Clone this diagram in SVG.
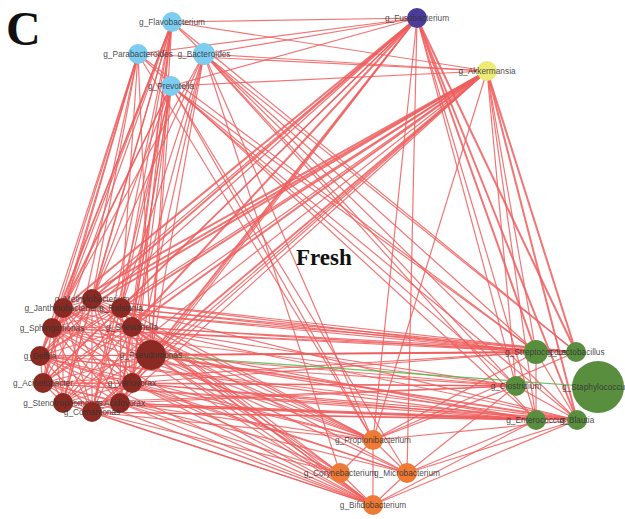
<svg xmlns="http://www.w3.org/2000/svg" width="625" height="519" viewBox="0 0 625 519">
<style>
.e line{stroke:#ef5d5d;stroke-width:1.2;stroke-opacity:.85}
.e line.t{stroke-width:2}
.e line.g{stroke:#4cb848;stroke-width:1.2}
.n text{font-family:"Liberation Sans",Arial,sans-serif;font-size:8.3px;fill:#333;text-anchor:middle;dominant-baseline:central;fill-opacity:.9}
.b{fill:#7dcdf0}.p{fill:#4b3b9a}.y{fill:#eeea76}.r{fill:#8a2a22}.gr{fill:#5a8e3f}.o{fill:#ef7a35}
.h{font-family:"Liberation Serif","Times New Roman",serif;font-weight:bold;fill:#111}
</style>
<rect width="625" height="519" fill="#fff"/>
<text class="h" x="6" y="45" font-size="48">C</text>
<text class="h" x="296" y="265" font-size="23">Fresh</text>
<g id="connectors" class="e">
<!-- dark red cluster intra -->
<line x1="92" y1="299" x2="63" y2="308"/><line x1="92" y1="299" x2="121" y2="308"/><line x1="92" y1="299" x2="52" y2="328"/><line x1="92" y1="299" x2="132" y2="327"/><line x1="92" y1="299" x2="40" y2="356"/><line x1="92" y1="299" x2="151" y2="355"/><line x1="92" y1="299" x2="43" y2="383"/><line x1="92" y1="299" x2="132" y2="383"/><line x1="92" y1="299" x2="63" y2="403"/><line x1="92" y1="299" x2="120" y2="403"/><line x1="92" y1="299" x2="92" y2="412"/>
<line x1="63" y1="308" x2="121" y2="308"/><line x1="63" y1="308" x2="52" y2="328"/><line x1="63" y1="308" x2="132" y2="327"/><line x1="63" y1="308" x2="40" y2="356"/><line x1="63" y1="308" x2="151" y2="355"/><line x1="63" y1="308" x2="43" y2="383"/><line x1="63" y1="308" x2="132" y2="383"/><line x1="63" y1="308" x2="63" y2="403"/><line x1="63" y1="308" x2="120" y2="403"/><line x1="63" y1="308" x2="92" y2="412"/>
<line x1="121" y1="308" x2="52" y2="328"/><line x1="121" y1="308" x2="132" y2="327"/><line x1="121" y1="308" x2="40" y2="356"/><line x1="121" y1="308" x2="151" y2="355"/><line x1="121" y1="308" x2="43" y2="383"/><line x1="121" y1="308" x2="132" y2="383"/><line x1="121" y1="308" x2="63" y2="403"/><line x1="121" y1="308" x2="120" y2="403"/><line x1="121" y1="308" x2="92" y2="412"/>
<line x1="52" y1="328" x2="132" y2="327"/><line x1="52" y1="328" x2="40" y2="356"/><line x1="52" y1="328" x2="151" y2="355"/><line x1="52" y1="328" x2="43" y2="383"/><line x1="52" y1="328" x2="132" y2="383"/><line x1="52" y1="328" x2="63" y2="403"/><line x1="52" y1="328" x2="120" y2="403"/><line x1="52" y1="328" x2="92" y2="412"/>
<line x1="132" y1="327" x2="40" y2="356"/><line x1="132" y1="327" x2="151" y2="355"/><line x1="132" y1="327" x2="43" y2="383"/><line x1="132" y1="327" x2="132" y2="383"/><line x1="132" y1="327" x2="63" y2="403"/><line x1="132" y1="327" x2="120" y2="403"/><line x1="132" y1="327" x2="92" y2="412"/>
<line x1="40" y1="356" x2="151" y2="355"/><line x1="40" y1="356" x2="43" y2="383"/><line x1="40" y1="356" x2="132" y2="383"/><line x1="40" y1="356" x2="63" y2="403"/><line x1="40" y1="356" x2="120" y2="403"/><line x1="40" y1="356" x2="92" y2="412"/>
<line x1="151" y1="355" x2="43" y2="383"/><line x1="151" y1="355" x2="132" y2="383"/><line x1="151" y1="355" x2="63" y2="403"/><line x1="151" y1="355" x2="120" y2="403"/><line x1="151" y1="355" x2="92" y2="412"/>
<line x1="43" y1="383" x2="132" y2="383"/><line x1="43" y1="383" x2="63" y2="403"/><line x1="43" y1="383" x2="120" y2="403"/><line x1="43" y1="383" x2="92" y2="412"/>
<line x1="132" y1="383" x2="63" y2="403"/><line x1="132" y1="383" x2="120" y2="403"/><line x1="132" y1="383" x2="92" y2="412"/>
<line x1="63" y1="403" x2="120" y2="403"/><line x1="63" y1="403" x2="92" y2="412"/><line x1="120" y1="403" x2="92" y2="412"/>
<!-- blue to dark red -->
<line x1="172" y1="22" x2="92" y2="299"/><line x1="172" y1="22" x2="63" y2="308"/><line x1="172" y1="22" x2="121" y2="308"/><line x1="172" y1="22" x2="52" y2="328"/><line x1="172" y1="22" x2="132" y2="327"/><line x1="172" y1="22" x2="40" y2="356"/><line x1="172" y1="22" x2="151" y2="355"/><line x1="172" y1="22" x2="43" y2="383"/><line x1="172" y1="22" x2="132" y2="383"/><line x1="172" y1="22" x2="63" y2="403"/><line x1="172" y1="22" x2="120" y2="403"/><line x1="172" y1="22" x2="92" y2="412"/>
<line x1="138" y1="54" x2="92" y2="299"/><line x1="138" y1="54" x2="63" y2="308"/><line x1="138" y1="54" x2="52" y2="328"/><line x1="138" y1="54" x2="40" y2="356"/><line x1="138" y1="54" x2="43" y2="383"/><line x1="138" y1="54" x2="63" y2="403"/><line x1="138" y1="54" x2="151" y2="355"/><line x1="138" y1="54" x2="121" y2="308"/>
<line x1="171" y1="86" x2="92" y2="299"/><line x1="171" y1="86" x2="63" y2="308"/><line x1="171" y1="86" x2="121" y2="308"/><line x1="171" y1="86" x2="132" y2="327"/><line x1="171" y1="86" x2="151" y2="355"/><line x1="171" y1="86" x2="132" y2="383"/><line x1="171" y1="86" x2="120" y2="403"/><line x1="171" y1="86" x2="92" y2="412"/><line x1="171" y1="86" x2="52" y2="328"/>
<line x1="204" y1="54" x2="121" y2="308"/><line x1="204" y1="54" x2="132" y2="327"/><line x1="204" y1="54" x2="151" y2="355"/><line x1="204" y1="54" x2="132" y2="383"/><line x1="204" y1="54" x2="92" y2="299"/><line x1="204" y1="54" x2="63" y2="308"/>
<!-- blue to fus / akk -->
<line x1="172" y1="22" x2="417" y2="18"/><line x1="138" y1="54" x2="417" y2="18"/><line x1="204" y1="54" x2="417" y2="18"/><line x1="171" y1="86" x2="417" y2="18"/>
<line x1="172" y1="22" x2="487" y2="71"/><line x1="138" y1="54" x2="487" y2="71"/><line x1="204" y1="54" x2="487" y2="71"/><line x1="171" y1="86" x2="487" y2="71"/>
<!-- blue to green / orange -->
<line x1="172" y1="22" x2="576" y2="352"/><line x1="172" y1="22" x2="577" y2="420"/><line x1="138" y1="54" x2="536" y2="352"/><line x1="138" y1="54" x2="536" y2="420"/><line x1="204" y1="54" x2="536" y2="352"/><line x1="204" y1="54" x2="516" y2="386"/><line x1="204" y1="54" x2="576" y2="352"/><line x1="204" y1="54" x2="373" y2="440"/><line x1="204" y1="54" x2="536" y2="420"/><line x1="171" y1="86" x2="516" y2="386"/><line x1="171" y1="86" x2="577" y2="420"/><line x1="171" y1="86" x2="373" y2="440"/><line x1="171" y1="86" x2="407" y2="473"/><line x1="171" y1="86" x2="536" y2="352"/><line x1="138" y1="54" x2="373" y2="440"/><line x1="204" y1="54" x2="340" y2="473"/>
<!-- fusobacterium -->
<line class="t" x1="417" y1="18" x2="92" y2="299"/><line class="t" x1="417" y1="18" x2="63" y2="308"/><line x1="417" y1="18" x2="121" y2="308"/><line x1="417" y1="18" x2="52" y2="328"/><line class="t" x1="417" y1="18" x2="132" y2="327"/><line x1="417" y1="18" x2="40" y2="356"/><line class="t" x1="417" y1="18" x2="151" y2="355"/><line x1="417" y1="18" x2="132" y2="383"/><line x1="417" y1="18" x2="43" y2="383"/><line x1="417" y1="18" x2="120" y2="403"/>
<line class="t" x1="417" y1="18" x2="536" y2="352"/><line class="t" x1="417" y1="18" x2="576" y2="352"/><line x1="417" y1="18" x2="516" y2="386"/><line class="t" x1="417" y1="18" x2="577" y2="420"/><line x1="417" y1="18" x2="536" y2="420"/><line x1="417" y1="18" x2="373" y2="440"/><line x1="417" y1="18" x2="407" y2="473"/>
<!-- akkermansia -->
<line class="t" x1="487" y1="71" x2="92" y2="299"/><line class="t" x1="487" y1="71" x2="63" y2="308"/><line class="t" x1="487" y1="71" x2="121" y2="308"/><line class="t" x1="487" y1="71" x2="52" y2="328"/><line class="t" x1="487" y1="71" x2="132" y2="327"/><line x1="487" y1="71" x2="40" y2="356"/><line class="t" x1="487" y1="71" x2="151" y2="355"/><line x1="487" y1="71" x2="43" y2="383"/><line x1="487" y1="71" x2="132" y2="383"/><line x1="487" y1="71" x2="63" y2="403"/><line x1="487" y1="71" x2="120" y2="403"/><line x1="487" y1="71" x2="92" y2="412"/>
<line x1="487" y1="71" x2="536" y2="352"/><line class="t" x1="487" y1="71" x2="576" y2="352"/><line x1="487" y1="71" x2="516" y2="386"/><line class="t" x1="487" y1="71" x2="577" y2="420"/><line x1="487" y1="71" x2="536" y2="420"/><line x1="487" y1="71" x2="373" y2="440"/>
<!-- green to dark red -->
<line x1="536" y1="352" x2="92" y2="299"/><line x1="536" y1="352" x2="63" y2="308"/><line x1="536" y1="352" x2="121" y2="308"/><line x1="536" y1="352" x2="52" y2="328"/><line x1="536" y1="352" x2="132" y2="327"/><line x1="536" y1="352" x2="40" y2="356"/><line class="t" x1="536" y1="352" x2="151" y2="355"/><line x1="536" y1="352" x2="43" y2="383"/><line x1="536" y1="352" x2="132" y2="383"/>
<line x1="576" y1="352" x2="63" y2="308"/><line x1="576" y1="352" x2="121" y2="308"/><line x1="576" y1="352" x2="132" y2="327"/><line x1="576" y1="352" x2="151" y2="355"/><line x1="576" y1="352" x2="52" y2="328"/><line x1="576" y1="352" x2="92" y2="299"/>
<line x1="516" y1="386" x2="40" y2="356"/><line x1="516" y1="386" x2="151" y2="355"/><line x1="516" y1="386" x2="43" y2="383"/><line x1="516" y1="386" x2="132" y2="383"/><line x1="516" y1="386" x2="132" y2="327"/><line x1="516" y1="386" x2="63" y2="403"/><line x1="516" y1="386" x2="52" y2="328"/><line x1="516" y1="386" x2="120" y2="403"/>
<line x1="536" y1="420" x2="43" y2="383"/><line x1="536" y1="420" x2="63" y2="403"/><line x1="536" y1="420" x2="92" y2="412"/><line x1="536" y1="420" x2="120" y2="403"/><line x1="536" y1="420" x2="132" y2="383"/><line x1="536" y1="420" x2="151" y2="355"/><line x1="536" y1="420" x2="40" y2="356"/><line x1="536" y1="420" x2="52" y2="328"/>
<line class="t" x1="577" y1="420" x2="151" y2="355"/><line x1="577" y1="420" x2="132" y2="383"/><line x1="577" y1="420" x2="120" y2="403"/><line x1="577" y1="420" x2="92" y2="412"/><line x1="577" y1="420" x2="63" y2="403"/><line x1="577" y1="420" x2="43" y2="383"/><line x1="577" y1="420" x2="132" y2="327"/><line x1="577" y1="420" x2="40" y2="356"/><line x1="577" y1="420" x2="121" y2="308"/>
<!-- green intra -->
<line x1="536" y1="352" x2="536" y2="420"/><line x1="516" y1="386" x2="577" y2="420"/><line x1="536" y1="352" x2="577" y2="420"/>
<!-- orange to dark red -->
<line x1="373" y1="440" x2="92" y2="299"/><line x1="373" y1="440" x2="121" y2="308"/><line x1="373" y1="440" x2="132" y2="327"/><line x1="373" y1="440" x2="151" y2="355"/><line x1="373" y1="440" x2="132" y2="383"/><line x1="373" y1="440" x2="120" y2="403"/><line x1="373" y1="440" x2="92" y2="412"/><line x1="373" y1="440" x2="63" y2="308"/><line x1="373" y1="440" x2="52" y2="328"/><line x1="373" y1="440" x2="40" y2="356"/>
<line x1="340" y1="473" x2="151" y2="355"/><line x1="340" y1="473" x2="132" y2="383"/><line x1="340" y1="473" x2="120" y2="403"/><line x1="340" y1="473" x2="92" y2="412"/><line x1="340" y1="473" x2="132" y2="327"/><line x1="340" y1="473" x2="121" y2="308"/>
<line x1="407" y1="473" x2="151" y2="355"/><line x1="407" y1="473" x2="132" y2="383"/><line x1="407" y1="473" x2="132" y2="327"/><line x1="407" y1="473" x2="43" y2="383"/><line x1="407" y1="473" x2="40" y2="356"/>
<line x1="373" y1="505" x2="92" y2="412"/><line x1="373" y1="505" x2="63" y2="403"/><line x1="373" y1="505" x2="120" y2="403"/><line x1="373" y1="505" x2="43" y2="383"/><line x1="373" y1="505" x2="40" y2="356"/><line x1="373" y1="505" x2="132" y2="383"/><line x1="373" y1="505" x2="151" y2="355"/><line x1="373" y1="505" x2="52" y2="328"/><line x1="373" y1="505" x2="132" y2="327"/><line x1="373" y1="505" x2="63" y2="308"/><line x1="373" y1="505" x2="92" y2="299"/><line x1="373" y1="505" x2="121" y2="308"/>
<!-- orange intra -->
<line x1="373" y1="440" x2="340" y2="473"/><line x1="373" y1="440" x2="407" y2="473"/><line x1="373" y1="440" x2="373" y2="505"/><line x1="340" y1="473" x2="373" y2="505"/><line x1="407" y1="473" x2="373" y2="505"/>
<!-- orange to green -->
<line x1="373" y1="440" x2="536" y2="352"/><line x1="373" y1="440" x2="516" y2="386"/><line x1="373" y1="440" x2="577" y2="420"/><line x1="373" y1="440" x2="576" y2="352"/><line x1="407" y1="473" x2="536" y2="420"/><line x1="407" y1="473" x2="577" y2="420"/><line x1="407" y1="473" x2="516" y2="386"/><line x1="373" y1="505" x2="577" y2="420"/><line x1="373" y1="505" x2="536" y2="420"/>
<!-- negative (green) edge -->
<line class="g" x1="151" y1="355" x2="598" y2="387"/>
</g>
<g id="n_Flavobacterium" class="n"><circle class="b" cx="172" cy="22" r="10"/><text x="172" y="22">g_Flavobacterium</text></g>
<g id="n_Parabacteroides" class="n"><circle class="b" cx="138" cy="54" r="10"/><text x="138" y="54">g_Parabacteroides</text></g>
<g id="n_Bacteroides" class="n"><circle class="b" cx="204" cy="54" r="11"/><text x="204" y="54">g_Bacteroides</text></g>
<g id="n_Prevotella" class="n"><circle class="b" cx="171" cy="86" r="10"/><text x="171" y="86">g_Prevotella</text></g>
<g id="n_Fusobacterium" class="n"><circle class="p" cx="417" cy="18" r="10"/><text x="417" y="18">g_Fusobacterium</text></g>
<g id="n_Akkermansia" class="n"><circle class="y" cx="487" cy="71" r="10"/><text x="487" y="71">g_Akkermansia</text></g>
<g id="n_Methylobacterium" class="n"><circle class="r" cx="92" cy="299" r="10"/><text x="92" y="299">g_Methylobacterium</text></g>
<g id="n_Janthinobacterium" class="n"><circle class="r" cx="63" cy="308" r="10"/><text x="63" y="308">g_Janthinobacterium</text></g>
<g id="n_Ralstonia" class="n"><circle class="r" cx="121" cy="308" r="10"/><text x="121" y="308">g_Ralstonia</text></g>
<g id="n_Sphingomonas" class="n"><circle class="r" cx="52" cy="328" r="10"/><text x="52" y="328">g_Sphingomonas</text></g>
<g id="n_Shewanella" class="n"><circle class="r" cx="132" cy="327" r="10"/><text x="132" y="327">g_Shewanella</text></g>
<g id="n_Delftia" class="n"><circle class="r" cx="40" cy="356" r="10"/><text x="40" y="356">g_Delftia</text></g>
<g id="n_Pseudomonas" class="n"><circle class="r" cx="151" cy="355" r="15"/><text x="151" y="355">g_Pseudomonas</text></g>
<g id="n_Acinetobacter" class="n"><circle class="r" cx="43" cy="383" r="10"/><text x="43" y="383">g_Acinetobacter</text></g>
<g id="n_Variovorax" class="n"><circle class="r" cx="132" cy="383" r="10"/><text x="132" y="383">g_Variovorax</text></g>
<g id="n_Stenotrophomonas" class="n"><circle class="r" cx="63" cy="403" r="10"/><text x="63" y="403">g_Stenotrophomonas</text></g>
<g id="n_Acidovorax" class="n"><circle class="r" cx="120" cy="403" r="10"/><text x="120" y="403">g_Acidovorax</text></g>
<g id="n_Comamonas" class="n"><circle class="r" cx="92" cy="412" r="10"/><text x="92" y="412">g_Comamonas</text></g>
<g id="n_Streptococcus" class="n"><circle class="gr" cx="536" cy="352" r="12"/><text x="536" y="352">g_Streptococcus</text></g>
<g id="n_Lactobacillus" class="n"><circle class="gr" cx="576" cy="352" r="10"/><text x="576" y="352">g_Lactobacillus</text></g>
<g id="n_Clostridium" class="n"><circle class="gr" cx="516" cy="386" r="10"/><text x="516" y="386">g_Clostridium</text></g>
<g id="n_Staphylococcus" class="n"><circle class="gr" cx="598" cy="387" r="26"/><text x="562" y="387" style="text-anchor:start">g_Staphylococcu</text></g>
<g id="n_Enterococcus" class="n"><circle class="gr" cx="536" cy="420" r="10"/><text x="536" y="420">g_Enterococcus</text></g>
<g id="n_Blautia" class="n"><circle class="gr" cx="577" cy="420" r="10"/><text x="577" y="420">g_Blautia</text></g>
<g id="n_Propionibacterium" class="n"><circle class="o" cx="373" cy="440" r="10"/><text x="373" y="440">g_Propionibacterium</text></g>
<g id="n_Corynebacterium" class="n"><circle class="o" cx="340" cy="473" r="10"/><text x="340" y="473">g_Corynebacterium</text></g>
<g id="n_Microbacterium" class="n"><circle class="o" cx="407" cy="473" r="10"/><text x="407" y="473">g_Microbacterium</text></g>
<g id="n_Bifidobacterium" class="n"><circle class="o" cx="373" cy="505" r="10"/><text x="373" y="505">g_Bifidobacterium</text></g>
</svg>
